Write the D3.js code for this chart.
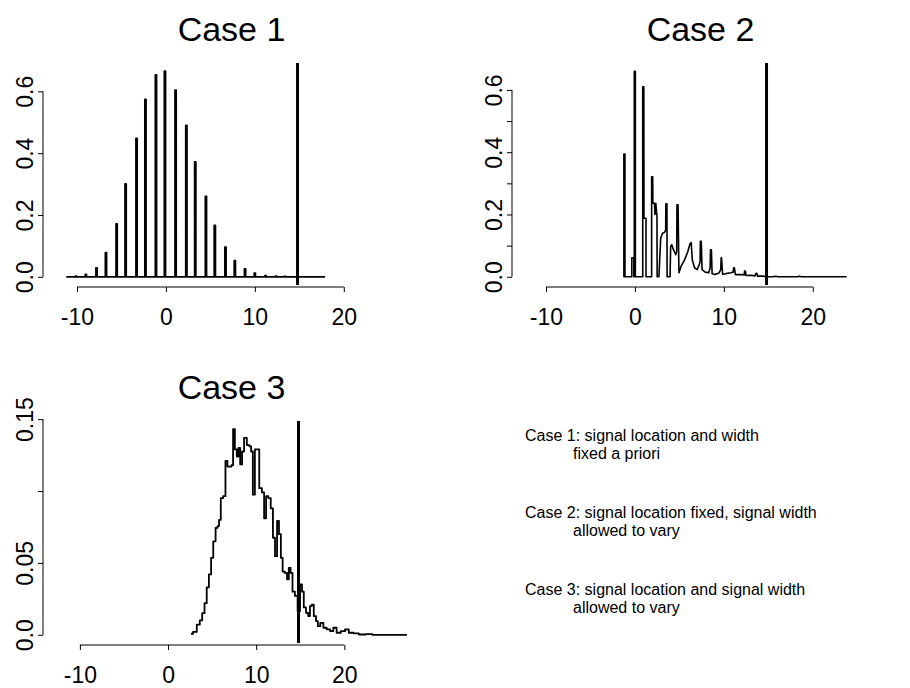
<!DOCTYPE html>
<html>
<head>
<meta charset="utf-8">
<script src="https://cdn.jsdelivr.net/npm/d3@7"></script>
<style>
body { margin: 0; background: #fff; }
svg text { font-family: "Liberation Sans", Arial, Helvetica, sans-serif; fill: #000; }
</style>
</head>
<body>
<div id="chart"></div>
<script>
const WIDTH = 910, HEIGHT = 688;

// x limits of the panels and the cut-off line
const xLimits = [-12.25, 27];
const xLimits3 = [-12.6, 27];
const xTicks = [-10, 0, 10, 20];
const cutoff = 14.8;

// Case 1: spikes of the discrete distribution (position, height)
const case1Pos = [-10.1, -9.0, -7.8, -6.74, -5.54, -4.53, -3.3, -2.3, -1.12, -0.11, 1.09, 2.3,
                  3.3, 4.5, 5.5, 6.7, 7.75, 8.9, 10.0, 11.2, 12.4, 13.4];
const case1Val = [0.002, 0.0075, 0.029, 0.078, 0.171, 0.301, 0.448, 0.574, 0.653, 0.665, 0.604, 0.490,
                  0.372, 0.260, 0.166, 0.096, 0.052, 0.026, 0.012, 0.004, 0.002, 0.001];
const case1Span = [-11.2, 17.9];
const case1Ticks = [0, 0.2, 0.4, 0.6];
const case1Labels = ["0.0", "0.2", "0.4", "0.6"];

// Case 2: spiky density curve
const case2X = [-1.3, -1.24, -1.24, -1.12, -1.12, -0.35, -0.35, -0.12, -0.12, -0.07, -0.07, 0.05, 0.05,
                0.88, 0.88, 1.0, 1.02, 1.25, 1.25,
                1.88, 1.88, 2.0, 2.02, 2.2, 2.25, 2.35, 2.45, 2.48, 2.5,
                2.7, 2.9, 3.1, 3.3, 3.46, 3.48, 3.6, 3.62,
                3.95, 4.02, 4.15, 4.33, 4.6, 4.7, 4.73, 4.85, 4.95,
                5.2, 5.6, 5.96, 6.2, 6.33, 6.45, 6.7, 7.0, 7.25, 7.33, 7.36, 7.46, 7.55,
                7.9, 8.3, 8.46, 8.5, 8.6, 8.68, 8.75, 9.0, 9.45, 9.65, 9.7, 9.74, 9.86, 9.95,
                10.2, 10.8, 11.05, 11.1, 11.18, 11.3, 12.0, 12.3, 12.33, 12.42, 12.5,
                13.0, 13.5, 13.62, 13.7, 13.8, 14.5, 14.7, 15.5, 15.8, 16.1, 18.3, 18.5, 18.7, 23.8];
const case2Y = [0, 0, 0.394, 0.394, 0, 0, 0.061, 0.061, 0, 0, 0.66, 0.66, 0,
                0, 0.61, 0.61, 0.188, 0.188, 0,
                0, 0.321, 0.321, 0.236, 0.236, 0.2, 0.236, 0.2, 0.2, 0,
                0, 0.124, 0.14, 0.142, 0.15, 0.234, 0.234, 0,
                0, 0.098, 0.103, 0.087, 0.071, 0.08, 0.231, 0.231, 0.013,
                0.034, 0.055, 0.082, 0.106, 0.11, 0.055, 0.029, 0.023, 0.04, 0.05, 0.114, 0.114, 0.023,
                0.015, 0.013, 0.029, 0.087, 0.087, 0.01, 0.01, 0.007, 0.012, 0.023, 0.061, 0.061, 0.008, 0.008,
                0.01, 0.013, 0.015, 0.029, 0.029, 0.007, 0.007, 0.006, 0.018, 0.018, 0.004,
                0.005, 0.003, 0.011, 0.011, 0.002, 0.002, 0, 0, 0.002, 0, 0, 0.002, 0, 0];
const case2Ticks = [0, 0.1, 0.2, 0.3, 0.4, 0.5, 0.6];
const case2Labels = ["0.0", "", "0.2", "", "0.4", "", "0.6"];

// Case 3: smooth-ish histogram density
const case3X = [2.6, 3.07, 3.45, 3.75, 4.0, 4.28, 4.5, 4.77, 5.0, 5.26, 5.53, 5.7, 5.87, 6.1, 6.4, 6.63, 6.85,
                7.1, 7.3, 7.46, 7.7, 7.9, 8.07, 8.3, 8.5, 8.75, 9.13, 9.35, 9.5, 9.74, 9.96, 10.2, 10.5,
                10.8, 11.0, 11.25, 11.5, 11.8, 12.0, 12.27, 12.47, 12.7, 12.9, 13.1, 13.4, 13.6, 13.8,
                14.0, 14.24, 14.55, 14.85, 15.1, 15.3, 15.5, 15.8, 16.0, 16.2, 16.4, 16.67, 16.9, 17.1,
                17.45, 17.8, 18.2, 18.6, 18.9, 19.35, 19.85, 20.3, 20.7, 21.4, 21.9, 22.95, 23.4, 27.1];
const case3Y = [0.0007, 0.002, 0.007, 0.010, 0.015, 0.022, 0.033, 0.042, 0.0535, 0.065, 0.0744, 0.0756, 0.080,
                0.095, 0.0964, 0.121, 0.117, 0.117, 0.118, 0.143, 0.129, 0.124, 0.130, 0.1185, 0.1275,
                0.137, 0.132, 0.131, 0.1275, 0.0975, 0.129, 0.129, 0.102, 0.099, 0.081, 0.0964, 0.095,
                0.088, 0.0675, 0.0547, 0.0793, 0.07, 0.0535, 0.044, 0.043, 0.0385, 0.0466, 0.043, 0.030,
                0.027, 0.0165, 0.035, 0.030, 0.019, 0.0153, 0.013, 0.020, 0.021, 0.013, 0.0095, 0.006,
                0.0083, 0.0049, 0.0037, 0.0025, 0.0049, 0.0014, 0.0025, 0.0037, 0.0014, 0.001, 0.0002,
                0.0005, 0, 0];
const case3Ticks = [0, 0.05, 0.10, 0.15];
const case3Labels = ["0.0", "0.05", "", "0.15"];

// legend text on the lower right
const noteLines = [
  ["Case 1: signal location and width", "fixed a priori"],
  ["Case 2: signal location fixed, signal width", "allowed to vary"],
  ["Case 3: signal location and signal width", "allowed to vary"]
];

const svg = d3.select("#chart")
  .append("svg")
  .attr("width", WIDTH)
  .attr("height", HEIGHT);

// R-style 4% padding of the data range
function pad(range) {
  let d = (range[1] - range[0]) * 0.04;
  return [range[0] - d, range[1] + d];
}

/**
 * Draws one panel: axes, title, curve points and the cut-off line
 */
function drawPanel(box, title, xLim, yMax, points, yTicks, yLabels, curve, lineWidth) {
  let x = d3.scaleLinear().domain(pad(xLim)).range([box.left, box.right]);
  let y = d3.scaleLinear().domain(pad([0, yMax])).range([box.bottom, box.top]);
  let g = svg.append("g");

  // y axis, labels turned like R
  let yAxis = g.append("g")
    .attr("transform", `translate(${box.left},0)`)
    .call(d3.axisLeft(y).tickValues(yTicks).tickSize(5).tickFormat((d, i) => yLabels[i]));
  yAxis.select(".domain").remove();
  yAxis.append("line")
    .attr("y1", y(yTicks[0])).attr("y2", y(yTicks[yTicks.length - 1]))
    .attr("stroke", "#000");
  yAxis.selectAll(".tick line").attr("stroke", "#000");
  yAxis.selectAll(".tick text")
    .attr("x", 0).attr("dy", 0)
    .attr("transform", "translate(-10,0) rotate(-90)")
    .style("text-anchor", "middle")
    .style("font-size", "23px")
    .style("font-family", "Liberation Sans, Arial, sans-serif");

  // x axis under the plot region, plain hyphen minus like R
  let xAxis = g.append("g")
    .attr("transform", `translate(0,${box.bottom + 2})`)
    .call(d3.axisBottom(x).tickValues(xTicks).tickSize(5).tickFormat(d => String(d)));
  xAxis.select(".domain").remove();
  xAxis.append("line")
    .attr("x1", x(xTicks[0])).attr("x2", x(xTicks[xTicks.length - 1]))
    .attr("stroke", "#000");
  xAxis.selectAll(".tick line").attr("stroke", "#000");
  xAxis.selectAll(".tick text")
    .attr("y", 38).attr("dy", 0)
    .style("font-size", "23px")
    .style("font-family", "Liberation Sans, Arial, sans-serif");

  g.append("text")
    .attr("x", (box.left + box.right) / 2)
    .attr("y", box.top - 22)
    .style("text-anchor", "middle")
    .style("font-size", "34px")
    .text(title);

  let line = d3.line()
    .x(d => x(d[0]))
    .y(d => y(d[1]))
    .curve(curve);

  g.append("path")
    .datum(points)
    .attr("d", line)
    .attr("fill", "none")
    .attr("stroke", "#000")
    .attr("stroke-width", lineWidth)
    .attr("stroke-linejoin", "round");

  // cut-off drawn across the whole plot region
  g.append("line")
    .attr("x1", x(cutoff)).attr("x2", x(cutoff))
    .attr("y1", box.top).attr("y2", box.bottom)
    .attr("stroke", "#000")
    .attr("stroke-width", 3);
}

// Case 1 spikes become narrow up-down strokes on a zero line
let spikeHalf = 0.07;
let case1Points = [[case1Span[0], 0]];
case1Pos.forEach(function(p, i) {
  case1Points.push([p - spikeHalf, 0], [p - spikeHalf, case1Val[i]],
                   [p + spikeHalf, case1Val[i]], [p + spikeHalf, 0]);
});
case1Points.push([case1Span[1], 0]);

let case2Points = case2X.map((d, i) => [d, case2Y[i]]);
let case3Points = case3X.map((d, i) => [d, case3Y[i]]);

drawPanel({left: 43, right: 420, top: 63, bottom: 285}, "Case 1", xLimits, d3.max(case1Val),
  case1Points, case1Ticks, case1Labels, d3.curveLinear, 1.7);
drawPanel({left: 512, right: 889, top: 63, bottom: 285}, "Case 2", xLimits, d3.max(case2Y),
  case2Points, case2Ticks, case2Labels, d3.curveLinear, 1.6);
drawPanel({left: 43, right: 420, top: 421, bottom: 643}, "Case 3", xLimits3, d3.max(case3Y),
  case3Points, case3Ticks, case3Labels, d3.curveStep, 1.8);

// notes
let notes = svg.append("g").style("font-size", "16px");
noteLines.forEach(function(pair, i) {
  notes.append("text").attr("x", 525).attr("y", 441 + i * 77).text(pair[0]);
  notes.append("text").attr("x", 573).attr("y", 459 + i * 77).text(pair[1]);
});
</script>
</body>
</html>
